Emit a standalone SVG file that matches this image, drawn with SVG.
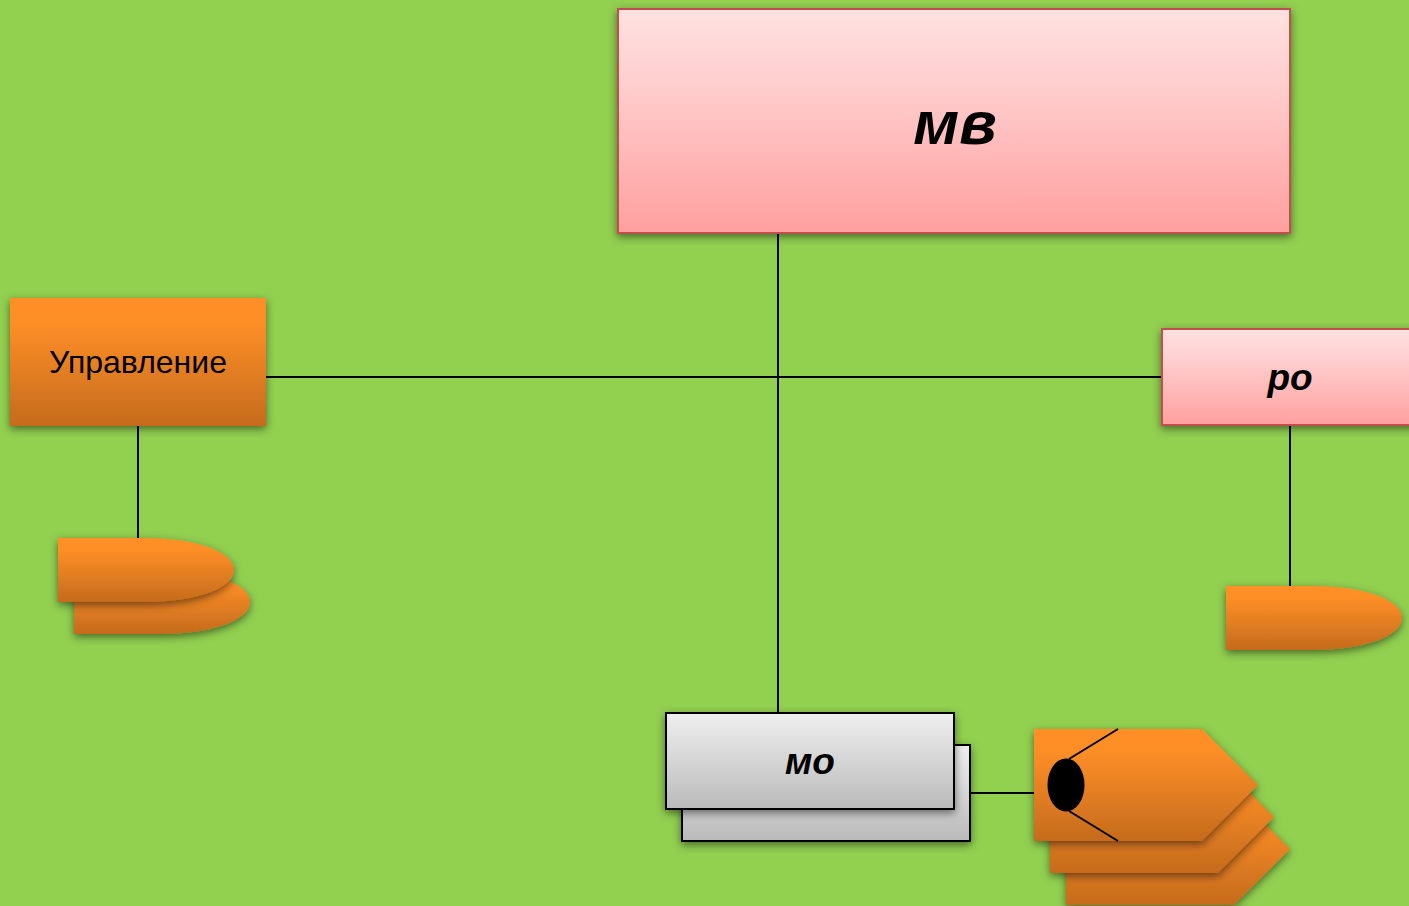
<svg xmlns="http://www.w3.org/2000/svg" width="1409" height="906" viewBox="0 0 1409 906">
<style>
.o{fill:url(#og);filter:url(#sh)}
.p{fill:url(#pg);stroke:#c0504d;stroke-width:2;filter:url(#sh)}
.g{fill:url(#gg);stroke:#000;stroke-width:2;filter:url(#sh)}
.c{fill:none;stroke:#000;stroke-width:2}
text{font-family:"Liberation Sans",Arial,sans-serif;text-anchor:middle;fill:#000}
.b{font-weight:bold;font-style:italic}
</style>
<defs>
<linearGradient id="og" x1="0" y1="0" x2="0" y2="1"><stop offset="0" stop-color="#ff8f26"/><stop offset="0.2" stop-color="#fd8e27"/><stop offset="1" stop-color="#c56b1d"/></linearGradient>
<linearGradient id="pg" x1="0" y1="0" x2="0" y2="1"><stop offset="0" stop-color="#ffe1e1"/><stop offset="0.35" stop-color="#ffcdcd"/><stop offset="1" stop-color="#ff9f9f"/></linearGradient>
<linearGradient id="gg" x1="0" y1="0" x2="0" y2="1"><stop offset="0" stop-color="#eeeeee"/><stop offset="0.35" stop-color="#dddddd"/><stop offset="1" stop-color="#bababa"/></linearGradient>
<filter id="sh" x="-10%" y="-15%" width="120%" height="135%"><feDropShadow dx="0" dy="3" stdDeviation="4" flood-color="#000" flood-opacity="0.5"/></filter>
</defs>
<rect id="background" width="1409" height="906" fill="#92d050"/>
<g id="connectors">
<path class="c" d="M778 233V713M266 377H1162M138 426V538M1290 425V586M970 793H1034"/>
</g>
<g id="node-mv"><rect class="p" x="618" y="9" width="672" height="224"/><text class="b" x="955" y="144" font-size="62">мв</text></g>
<g id="node-upravlenie"><rect class="o" x="10" y="298" width="256" height="128"/><text x="138" y="373" font-size="32">Управление</text></g>
<g id="node-ro"><rect class="p" x="1162" y="329" width="260" height="96"/><text class="b" x="1290" y="390" font-size="37">ро</text></g>
<g id="node-delay-left">
<path class="o" d="M74 570H162C212 570 250 584 250 602C250 620 212 634 162 634H74Z"/>
<path class="o" d="M58 538H146C196 538 234 552 234 570C234 588 196 602 146 602H58Z"/>
</g>
<g id="node-delay-right"><path class="o" d="M1226 586H1314C1364 586 1402 600 1402 618C1402 636 1364 650 1314 650H1226Z"/></g>
<g id="node-mo">
<rect class="g" x="682" y="745" width="288" height="96"/>
<rect class="g" x="666" y="713" width="288" height="96"/>
<text class="b" x="810" y="774" font-size="37">мо</text>
</g>
<g id="node-stack">
<path class="o" d="M1066 793H1234L1290 849L1234 905H1066Z"/>
<path class="o" d="M1050 761H1218L1274 817L1218 873H1050Z"/>
<path class="o" d="M1034 729H1202L1258 785L1202 841H1034Z"/>
<ellipse cx="1066" cy="785" rx="18.500" ry="26.500" fill="#000"/>
<path class="c" d="M1069 759L1118 729M1069 811L1118 841"/>
</g>
</svg>
